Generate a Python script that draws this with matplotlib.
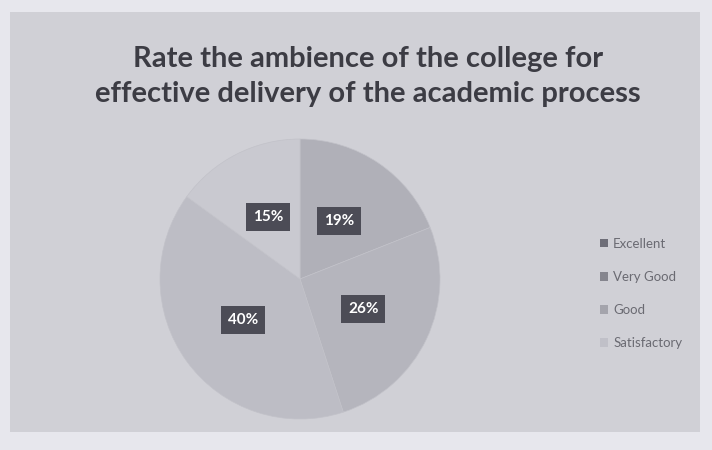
import matplotlib.pyplot as plt
from matplotlib.patches import Rectangle, Patch

# survey answers
categories = ['Excellent', 'Very Good', 'Good', 'Satisfactory']
shares = [19, 26, 40, 15]
slice_colors = ['#b0b0b8', '#b5b5bd', '#bdbdc5', '#c9c9d0']

title = 'Rate the ambience of the college for\neffective delivery of the academic process'

plt.rcParams['font.family'] = ['Lato', 'DejaVu Sans']

fig = plt.figure(figsize=(7.12, 4.5), dpi=100, facecolor='#e7e7ed')

# grey chart area of the slide
fig.patches.append(Rectangle((10 / 712, 1 - 432 / 450), 690 / 712, 420 / 450,
                             transform=fig.transFigure, facecolor='#d0d0d6',
                             edgecolor='none', zorder=-5))

fig.text(0.517, 0.83, title, ha='center', va='center', fontsize=21,
         fontweight='bold', color='#3c3c44', linespacing=1.4)

ax = fig.add_axes([160 / 712, 1 - 419 / 450, 280 / 712, 280 / 450])
ax.patch.set_visible(False)
wedges, _, pcts = ax.pie(shares, colors=slice_colors, startangle=90,
                         counterclock=False, autopct='%d%%', pctdistance=0.5,
                         wedgeprops=dict(edgecolor='#c2c2c9', linewidth=0.5))
for t in pcts:
    t.set_color('white')
    t.set_fontweight('bold')
    t.set_fontsize(11)
    t.set_bbox(dict(boxstyle='square,pad=0.45', facecolor='#4c4c56',
                    edgecolor='none'))
ax.set_xlim(-1, 1)
ax.set_ylim(-1, 1)

handles = [Patch(facecolor=c, edgecolor='none') for c in
           ['#6e6e78', '#85858e', '#a4a4ac', '#c0c0c8']]
fig.legend(handles, categories, loc='upper left',
           bbox_to_anchor=(588 / 712, 1 - 226 / 450), frameon=False,
           fontsize=9.5, labelcolor='#6a6a72', handlelength=0.6,
           handleheight=0.6, handletextpad=0.4, labelspacing=1.6)

fig.savefig('out.png', dpi=100, facecolor=fig.get_facecolor())
